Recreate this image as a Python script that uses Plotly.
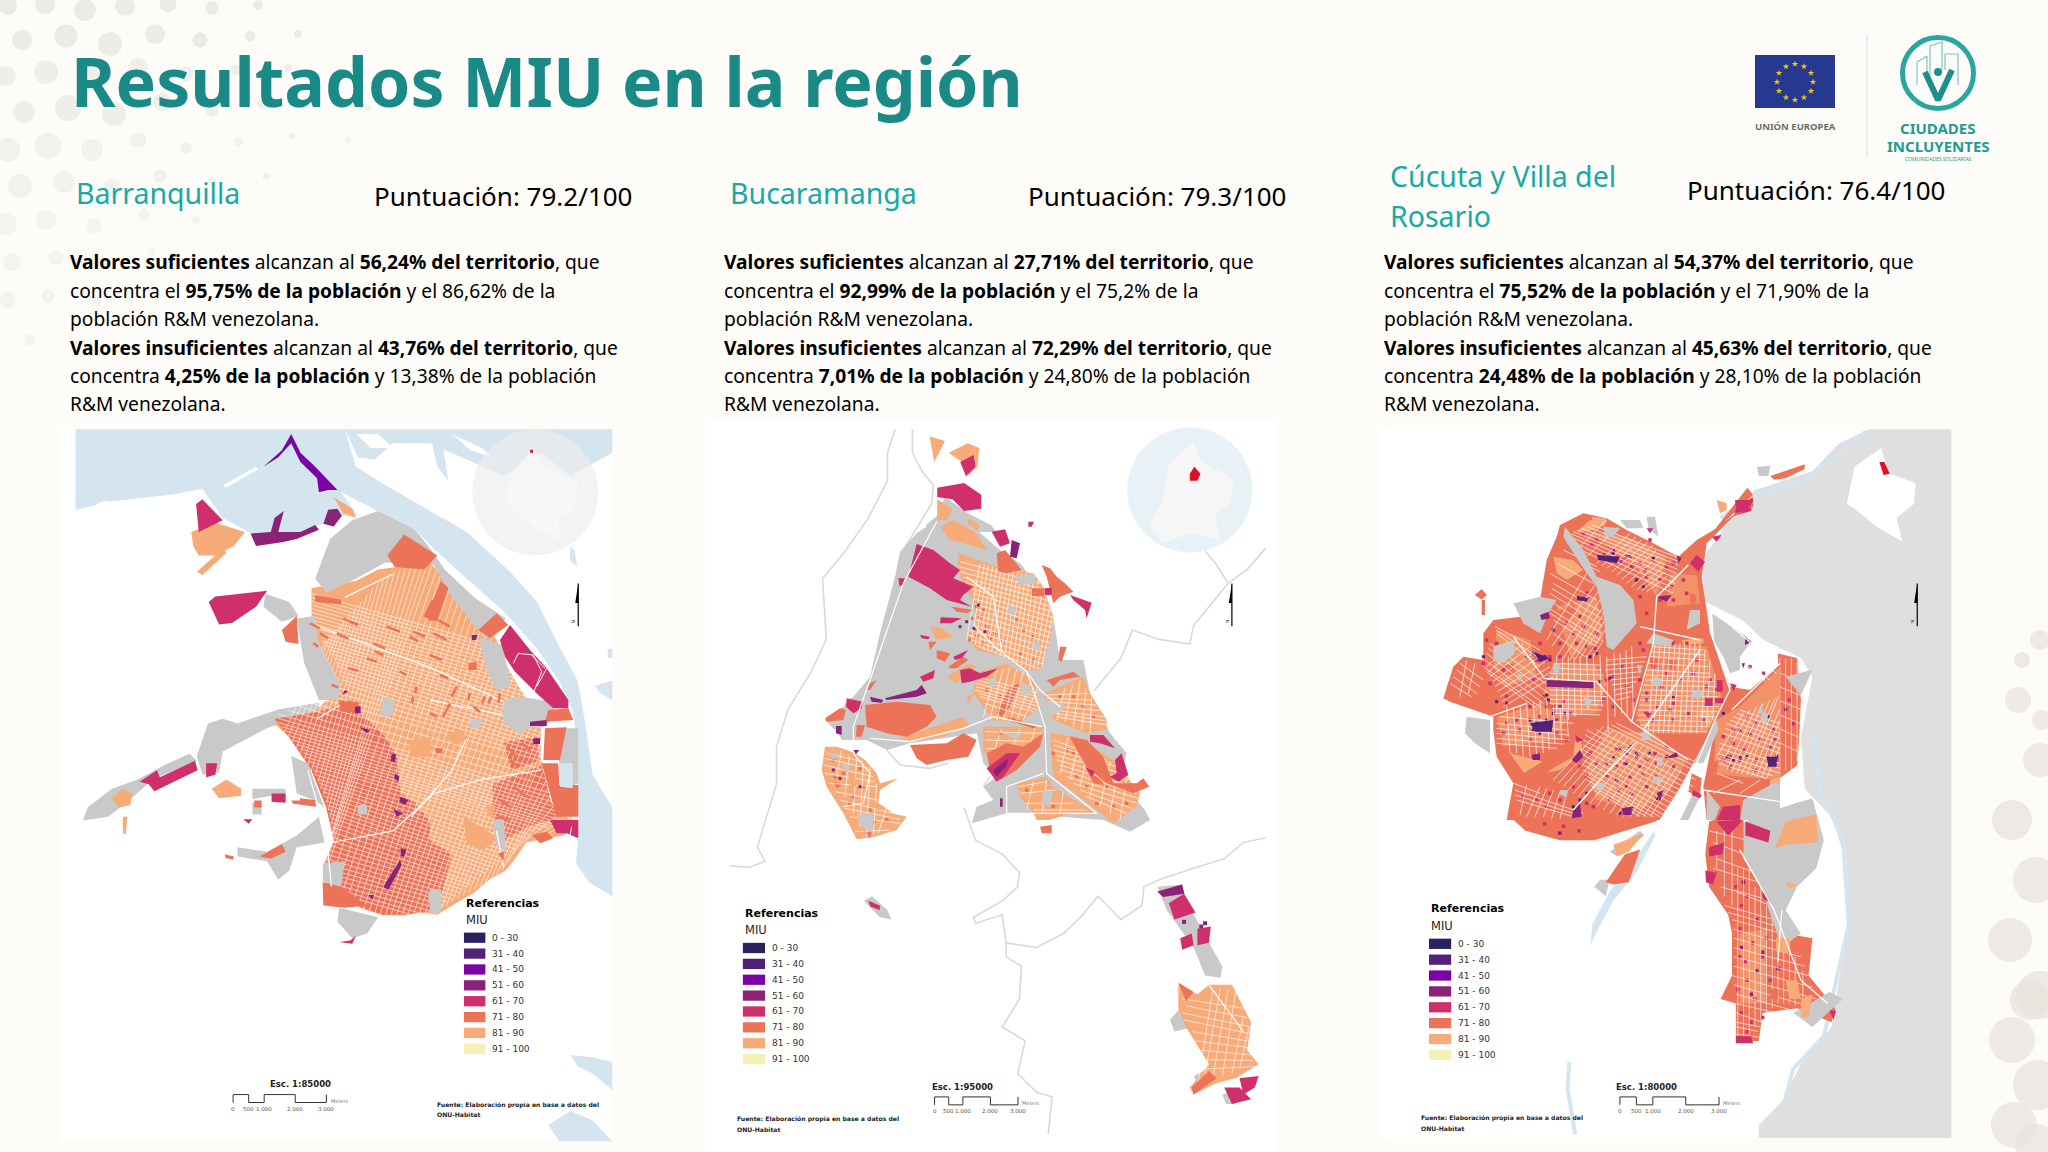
import plotly.graph_objects as go

# ---- Colores
VERDE_TITULO = '#1a8a87'
VERDE_CIUDAD = '#17a9a6'
FONDO = '#fdfcf8'
GRIS = '#c9c9c9'
GRIS_CLARO = '#dfdfdf'
AGUA = '#d5e5ef'
C_0_30 = '#2a2260'
C_31_40 = '#53217a'
C_41_50 = '#7b03a5'
C_51_60 = '#8a2278'
C_61_70 = '#cf2f6b'
C_71_80 = '#ec7357'
C_81_90 = '#f6ab78'
C_91_100 = '#f5f0b8'

# ---- Leyenda
LEYENDA_CAT = ['0 - 30', '31 - 40', '41 - 50', '51 - 60', '61 - 70', '71 - 80', '81 - 90', '91 - 100']
LEYENDA_COL = [C_0_30, C_31_40, C_41_50, C_51_60, C_61_70, C_71_80, C_81_90, C_91_100]
ESCALA_TXT = ['0', '500', '1.000', '2.000', '3.000']

# ---- Textos
TITULO = 'Resultados MIU en la región'
TEXTO_BQ = [
    '<b>Valores suficientes</b> alcanzan al <b>56,24% del territorio</b>, que',
    'concentra el <b>95,75% de la población</b> y el 86,62% de la',
    'población R&M venezolana.',
    '<b>Valores insuficientes</b> alcanzan al <b>43,76% del territorio</b>, que',
    'concentra <b>4,25% de la población</b> y 13,38% de la población',
    'R&M venezolana.']
TEXTO_BU = [
    '<b>Valores suficientes</b> alcanzan al <b>27,71% del territorio</b>, que',
    'concentra el <b>92,99% de la población</b> y el 75,2% de la',
    'población R&M venezolana.',
    '<b>Valores insuficientes</b> alcanzan al <b>72,29% del territorio</b>, que',
    'concentra <b>7,01% de la población</b> y 24,80% de la población',
    'R&M venezolana.']
TEXTO_CU = [
    '<b>Valores suficientes</b> alcanzan al <b>54,37% del territorio</b>, que',
    'concentra el <b>75,52% de la población</b> y el 71,90% de la',
    'población R&M venezolana.',
    '<b>Valores insuficientes</b> alcanzan al <b>45,63% del territorio</b>, que',
    'concentra <b>24,48% de la población</b> y 28,10% de la población',
    'R&M venezolana.']

# ---- Puntos decorativos del fondo
PUNTOS_X = [8, 45, 85, 125, 168, 212, 258, 22, 66, 110, 155, 200, 250, 298, 6, 46, 92, 138, 186, 236, 288, 340,
            24, 68, 114, 162, 212, 262, 316, 368, 8, 48, 92, 138, 186, 238, 292, 348, 20, 64, 112, 160, 212, 266,
            6, 46, 94, 144, 196, 12, 56, 102, 152, 8, 48, 96, 30, 2040, 2018, 2040, 2012, 2036, 2010, 2040, 2012, 2038, 2014, 2036, 2022, 2042, 2030]
PUNTOS_Y = [6, 4, 10, 6, 4, 8, 5, 40, 36, 44, 34, 40, 36, 34, 76, 72, 78, 68, 74, 70, 68, 72,
            112, 108, 114, 102, 110, 104, 102, 108, 150, 146, 150, 140, 148, 142, 136, 140, 186, 182, 188, 176, 182, 176,
            224, 220, 226, 214, 220, 262, 258, 264, 252, 300, 296, 302, 340, 640, 700, 760, 820, 880, 940, 995, 1040, 1085, 1125, 1145, 660, 720, 1000]
PUNTOS_TAM = [18, 20, 22, 20, 17, 14, 10, 20, 23, 24, 20, 15, 11, 8, 20, 24, 26, 20, 15, 11, 8, 7,
              22, 26, 24, 18, 13, 10, 7, 6, 24, 26, 22, 16, 12, 9, 7, 6, 24, 22, 18, 13, 9, 7,
              22, 20, 16, 11, 8, 18, 15, 12, 8, 16, 13, 10, 11, 20, 26, 34, 40, 46, 44, 48, 46, 50, 46, 42, 16, 20, 40]
PUNTOS_COL = ['#e6e4de'] * 14 + ['#eae8e2'] * 16 + ['#eeece7'] * 14 + ['#f1efea'] * 13 + ['#e5e3dd'] * 14

# ---- Logos
ESTRELLAS_X = [1795, 1804, 1811, 1813, 1811, 1804, 1795, 1786, 1779, 1777, 1779, 1786]
ESTRELLAS_Y = [64, 66.5, 73, 82, 91, 97.5, 100, 97.5, 91, 82, 73, 66.5]
BANDERA = [[(1755, 55), (1835, 55), (1835, 108), (1755, 108)]]
EDIFICIOS = [(1917, 85, 1917, 62, 1927, 56, 1927, 82), (1930, 76, 1930, 46, 1942, 42, 1942, 70), (1945, 70, 1945, 54, 1958, 54, 1958, 85)]
PERSONA = [(1925, 72), (1938, 100), (1952, 70)]

# ---- Barranquilla, plano general
BQ_AGUA = [
    [(42, 20), (670, 20), (760, 155), (805, 205), (770, 205), (700, 225), (600, 262), (510, 240), (440, 210), (385, 148), (300, 160), (130, 175), (42, 193)],
    [(660, 20), (770, 20), (800, 100), (880, 140), (990, 190), (1100, 240), (1210, 320), (1290, 390), (1340, 470), (1400, 560), (1420, 650), (1440, 760), (1493, 830), (1493, 1020), (1430, 990), (1395, 950), (1402, 880), (1400, 700), (1385, 620), (1350, 560), (1290, 490), (1200, 410), (1100, 340), (1010, 275), (960, 235), (860, 195), (760, 155)],
    [(770, 20), (1493, 20), (1493, 70), (1380, 120), (1300, 70), (1200, 120), (1100, 85), (1000, 50), (900, 50), (850, 85), (805, 80)],
    [(1000, 30), (1030, 30), (1050, 130), (1020, 100)],
    [(1380, 270), (1392, 280), (1398, 315), (1378, 300)],
    [(1380, 1360), (1440, 1365), (1493, 1375), (1493, 1435), (1440, 1400), (1400, 1385)],
    [(1320, 1510), (1380, 1480), (1440, 1500), (1493, 1545), (1350, 1545)],
    [(1480, 490), (1493, 490), (1493, 510), (1482, 510)],
    [(1445, 570), (1493, 558), (1493, 600), (1460, 585)]]
BQ_BLANCO = [
    [(440, 140), (530, 100), (535, 106), (450, 145)],
    [(100, 178), (130, 172), (130, 176), (100, 182)],
    [(800, 30), (860, 30), (900, 60), (840, 60)],
    [(1060, 30), (1140, 60), (1170, 80), (1110, 65)]]
BQ_PAIS = [[(1225, 110), (1280, 60), (1300, 100), (1400, 130), (1390, 190), (1345, 210), (1360, 260), (1280, 230), (1225, 190), (1200, 170)]]
BQ_ROJO = [(1275, 67)]
BQ_BASE = [
    [(680, 360), (800, 345), (860, 320), (1000, 305), (1040, 340), (1100, 400), (1180, 470), (1210, 530), (1270, 610), (1300, 640), (1300, 720), (1330, 800), (1400, 870), (1360, 890), (1320, 895), (1290, 900), (1260, 905), (1235, 935), (1205, 965), (1160, 985), (1120, 1012), (1070, 1035), (1020, 1060), (975, 1055), (930, 1062), (870, 1060), (820, 1048), (770, 1030), (712, 985), (715, 950), (740, 900), (720, 830), (680, 750), (620, 680), (580, 650), (695, 620), (760, 570), (700, 480), (680, 420)]]
BQ_BARRIOS = [
    [(355, 240), (420, 220), (500, 240), (470, 270), (420, 290), (375, 290), (360, 270)],
    [(370, 325), (440, 275), (450, 285), (385, 332)],
    [(140, 810), (170, 790), (195, 800), (190, 825), (160, 830)],
    [(170, 850), (182, 850), (178, 888), (170, 885)],
    [(410, 790), (450, 770), (490, 790), (490, 805), (430, 810)],
    [(740, 165), (790, 190), (800, 210), (765, 200)]]
BQ_ZONA_ROJA = [
    [(580, 640), (700, 625), (760, 610), (830, 640), (880, 680), (910, 720), (920, 800), (960, 820), (1000, 860), (1000, 900), (1060, 930), (1040, 990), (1020, 1050), (930, 1060), (870, 1060), (770, 1030), (712, 985), (715, 950), (740, 900), (720, 830), (680, 750), (620, 680)],
    [(1170, 780), (1300, 740), (1330, 800), (1350, 850), (1270, 870), (1200, 900), (1170, 850)],
    [(1200, 690), (1290, 680), (1295, 730), (1220, 750)]]
BQ_CALLES_A = [
    (680, 372, 1250, 500), (680, 388, 1260, 518), (680, 404, 1270, 536), (680, 420, 1280, 556), (690, 438, 1290, 574),
    (700, 456, 1300, 592), (710, 474, 1300, 610), (725, 492, 1300, 626), (740, 510, 1300, 642), (750, 528, 1300, 660),
    (760, 548, 1300, 678), (770, 566, 1300, 696), (740, 582, 1300, 712), (700, 596, 1300, 730), (640, 612, 1320, 770),
    (590, 630, 1330, 800), (590, 648, 1340, 820), (610, 666, 1350, 840), (630, 686, 1360, 858), (650, 704, 1370, 874),
    (665, 722, 1320, 874), (680, 740, 1280, 880), (690, 760, 1260, 896), (700, 778, 1240, 912), (710, 796, 1220, 926),
    (720, 816, 1200, 940), (725, 834, 1180, 952), (730, 852, 1160, 964), (735, 872, 1140, 976), (730, 892, 1120, 990),
    (725, 910, 1100, 1000), (720, 930, 1080, 1012), (715, 950, 1060, 1026), (712, 968, 1040, 1040), (712, 988, 1020, 1056),
    (740, 1012, 960, 1062)]
BQ_CALLES_A2 = [
    (680, 380, 1255, 509), (680, 396, 1265, 527), (680, 412, 1275, 546), (685, 429, 1285, 565), (695, 447, 1295, 583),
    (705, 465, 1300, 601), (718, 483, 1300, 618), (732, 501, 1300, 634), (745, 519, 1300, 651), (755, 538, 1300, 669),
    (765, 557, 1300, 687), (755, 574, 1300, 704), (720, 589, 1300, 721), (670, 604, 1310, 750), (615, 621, 1325, 785),
    (590, 639, 1335, 810), (600, 657, 1345, 830), (620, 676, 1355, 849), (640, 695, 1365, 866), (658, 713, 1345, 874),
    (672, 731, 1300, 877), (685, 750, 1270, 888), (695, 769, 1250, 904), (705, 787, 1230, 919), (715, 806, 1210, 933),
    (722, 825, 1190, 946), (728, 843, 1170, 958), (732, 862, 1150, 970), (733, 882, 1130, 983), (728, 901, 1110, 995),
    (722, 920, 1090, 1006), (718, 940, 1070, 1019), (713, 959, 1050, 1033), (712, 978, 1030, 1048), (725, 1000, 990, 1060)]
BQ_CALLES_B = [
    (600, 680, 720, 470), (625, 695, 745, 450), (650, 715, 770, 425), (670, 740, 800, 400), (690, 760, 830, 375),
    (705, 790, 860, 350), (720, 820, 890, 330), (730, 850, 920, 318), (735, 885, 950, 312), (722, 930, 980, 310),
    (715, 975, 1005, 312), (745, 1010, 1030, 330), (775, 1030, 1055, 355), (805, 1045, 1080, 380), (835, 1055, 1105, 405),
    (865, 1060, 1130, 425), (895, 1060, 1155, 450), (925, 1060, 1180, 475), (955, 1060, 1195, 505), (985, 1060, 1215, 535),
    (1015, 1055, 1235, 565), (1045, 1040, 1255, 595), (1075, 1025, 1275, 620), (1105, 1012, 1295, 645), (1135, 1000, 1300, 690),
    (1165, 985, 1300, 730), (1195, 965, 1315, 770), (1225, 930, 1330, 800), (1260, 900, 1355, 840), (1300, 895, 1375, 860)]
BQ_CALLES_B2 = [
    (612, 688, 732, 460), (638, 705, 758, 438), (660, 728, 785, 412), (680, 750, 815, 388), (698, 775, 845, 362),
    (712, 805, 875, 340), (725, 835, 905, 324), (732, 868, 935, 315), (728, 908, 965, 311), (718, 952, 992, 311),
    (730, 992, 1018, 320), (760, 1020, 1042, 342), (790, 1038, 1068, 368), (820, 1050, 1092, 392), (850, 1058, 1118, 415),
    (880, 1060, 1142, 438), (910, 1060, 1168, 462), (940, 1060, 1188, 490), (970, 1060, 1205, 520), (1000, 1058, 1225, 550),
    (1030, 1048, 1245, 580), (1060, 1032, 1265, 608), (1090, 1018, 1285, 632), (1120, 1006, 1298, 668), (1150, 992, 1300, 710),
    (1180, 975, 1308, 750), (1210, 948, 1322, 785), (1242, 915, 1342, 820), (1280, 898, 1365, 850)]
BQ_AVENIDAS = [
    [(690, 440), (1000, 530), (1245, 620)], [(695, 640), (780, 600)], [(670, 750), (720, 890), (735, 1010)],
    [(735, 905), (900, 880), (1010, 800), (1140, 770), (1300, 750)], [(1000, 600), (1250, 640)], [(1300, 720), (1330, 820), (1400, 870)],
    [(1100, 680), (1060, 750), (950, 850)], [(770, 380), (900, 330)], [(1200, 960), (1180, 880)]]
BQ_GRIS = [
    [(690, 340), (730, 255), (790, 215), (860, 195), (960, 235), (1010, 285), (1040, 320), (1120, 380), (1205, 425), (1150, 470), (1060, 380), (1010, 310), (880, 305), (800, 340), (720, 370)],
    [(640, 425), (690, 420), (700, 480), (760, 570), (750, 600), (700, 600), (660, 520)],
    [(555, 372), (620, 390), (645, 420), (600, 432), (550, 400)],
    [(625, 720), (670, 735), (700, 800), (715, 830), (690, 815), (640, 800)],
    [(480, 915), (560, 925), (640, 890), (700, 850), (715, 905), (640, 915), (620, 965), (590, 985), (560, 945), (480, 935)],
    [(710, 950), (770, 945), (760, 1000), (712, 990)],
    [(755, 1045), (860, 1065), (830, 1100), (790, 1110), (750, 1075)],
    [(1000, 1005), (1030, 1005), (1030, 1055), (1000, 1055)],
    [(1170, 860), (1200, 850), (1205, 925), (1180, 910)],
    [(1150, 480), (1195, 480), (1220, 570), (1180, 580), (1150, 530)],
    [(870, 595), (905, 600), (900, 630), (875, 630)],
    [(805, 825), (830, 825), (830, 845), (805, 845)],
    [(520, 790), (610, 790), (610, 800), (520, 812)],
    [(520, 820), (545, 820), (545, 845), (520, 845)]]
BQ_GRIS_BRAZO = [
    [(370, 720), (400, 650), (440, 640), (480, 650), (590, 620), (700, 605), (700, 625), (560, 660), (440, 710), (430, 755), (385, 760)],
    [(75, 830), (140, 790), (210, 770), (280, 740), (350, 715), (370, 730), (250, 770), (180, 820), (130, 850), (62, 858)]]
BQ_71_80 = [
    [(885, 290), (930, 245), (1020, 290), (985, 320), (905, 315)],
    [(990, 420), (1030, 345), (1050, 360), (1020, 430), (1000, 430)],
    [(600, 450), (640, 420), (645, 480), (610, 475)],
    [(710, 990), (760, 1000), (830, 1040), (770, 1045), (712, 1040)],
    [(540, 935), (600, 908), (610, 925), (570, 940)],
    [(625, 815), (690, 815), (690, 828), (630, 822)],
    [(525, 815), (545, 815), (545, 830), (525, 830)],
    [(445, 930), (470, 935), (468, 942), (448, 938)],
    [(755, 600), (810, 605), (800, 625), (760, 625)],
    [(690, 375), (760, 385), (760, 395), (690, 390)]]
BQ_61_70 = [
    [(368, 180), (385, 170), (440, 215), (375, 240)],
    [(402, 390), (420, 378), (560, 366), (530, 400), (465, 435), (430, 438)],
    [(215, 775), (262, 750), (270, 765), (365, 730), (372, 750), (255, 795), (240, 780)],
    [(495, 855), (520, 855), (510, 865)],
    [(572, 800), (610, 800), (610, 820), (572, 818)],
    [(755, 1118), (785, 1115), (800, 1105), (790, 1122)],
    [(395, 735), (425, 735), (420, 760), (395, 765)]]
BQ_51_60 = [
    [(515, 243), (570, 240), (580, 210), (605, 195), (590, 240), (650, 240), (690, 225), (700, 235), (640, 255), (600, 262), (530, 270)],
    [(712, 222), (725, 192), (750, 190), (762, 205), (740, 228)]]
BQ_41_50 = [[(550, 100), (600, 65), (625, 30), (650, 70), (690, 100), (720, 125), (750, 150), (725, 150), (700, 155), (695, 125), (650, 90), (625, 50), (590, 80)]]

# ---- Barranquilla, detalle oriental (otra escala de lectura)
BQD_GRIS = [
    [(800, 385), (835, 385), (835, 550), (805, 560), (775, 480), (780, 420)],
    [(610, 300), (660, 290), (760, 305), (765, 350), (735, 380), (690, 385), (660, 400), (610, 370)],
    [(540, 115), (575, 120), (610, 200), (590, 215), (550, 175)],
    [(510, 355), (545, 360), (540, 385), (510, 385)],
    [(245, 305), (285, 315), (270, 350), (240, 345)],
    [(175, 615), (200, 615), (200, 640), (175, 640)],
    [(385, 875), (420, 875), (420, 900), (385, 900)]]
BQD_AGUA = [[(775, 490), (818, 490), (818, 565), (780, 560)]]
BQD_71_80 = [
    [(535, 90), (590, 40), (625, 75), (570, 115)],
    [(735, 385), (800, 382), (780, 480), (730, 480)],
    [(725, 490), (775, 490), (778, 555), (835, 555), (835, 650), (770, 650)],
    [(745, 330), (805, 325), (820, 360), (735, 365)],
    [(695, 705), (740, 695), (760, 715), (720, 730)],
    [(0, 595), (45, 600), (48, 620), (0, 610)],
    [(70, 850), (115, 870), (115, 900), (70, 900)],
    [(595, 760), (612, 755), (610, 785)],
    [(405, 445), (428, 445), (425, 460), (408, 460)],
    [(115, 310), (150, 300), (170, 335), (130, 335)],
    [(370, 50), (395, 0), (420, 0), (385, 55)],
    [(505, 190), (530, 185), (530, 210), (505, 210)]]
BQD_81_90 = [
    [(440, 400), (480, 390), (505, 415), (460, 435)],
    [(560, 615), (585, 618), (580, 650), (560, 645)],
    [(330, 420), (395, 410), (390, 470), (330, 470)],
    [(490, 650), (560, 690), (590, 720), (550, 750), (500, 730)]]
BQD_61_70 = [
    [(600, 120), (630, 75), (690, 150), (740, 205), (805, 300), (805, 325), (760, 325), (715, 285), (645, 215), (615, 170)],
    [(750, 660), (835, 660), (835, 715), (800, 700), (770, 700)]]
BQD_LINEAS_BLANCAS = [[(640, 190), (655, 160), (700, 165), (725, 215), (700, 280)], [(740, 205), (710, 260)], [(695, 165), (735, 205)], [(815, 680), (810, 705)]]
BQD_51_60 = [
    [(690, 365), (740, 360), (740, 378), (690, 378)], [(700, 415), (720, 415), (720, 432), (700, 432)],
    [(165, 320), (182, 318), (182, 340), (165, 340)], [(180, 382), (210, 390), (200, 400)],
    [(250, 860), (300, 780), (305, 795), (265, 870)], [(302, 745), (320, 750), (312, 770), (302, 768)],
    [(275, 462), (288, 462), (285, 485), (272, 485)], [(285, 520), (298, 530), (295, 545), (282, 535)],
    [(300, 590), (325, 600), (315, 615), (298, 605)], [(280, 628), (310, 640), (290, 650)],
    [(515, 105), (532, 105), (528, 120), (515, 120)], [(135, 270), (145, 275), (125, 285)], [(205, 885), (222, 885), (218, 900)]]
BQD_RAYAS = [
    [(130, 55), (160, 70)], [(150, 65), (175, 75)], [(30, 70), (60, 85)], [(60, 100), (85, 115)], [(110, 100), (145, 115)], [(220, 130), (255, 145)], [(225, 155), (250, 165)],
    [(200, 175), (230, 185)], [(260, 80), (300, 95)], [(330, 110), (355, 125)], [(340, 95), (375, 110)], [(390, 165), (425, 180)], [(400, 100), (440, 120)], [(415, 60), (450, 80)],
    [(350, 260), (345, 280)], [(340, 290), (335, 310)], [(470, 260), (455, 290)], [(450, 310), (430, 350)], [(510, 280), (505, 300)], [(555, 290), (545, 310)], [(575, 290), (565, 310)], [(600, 280), (595, 310)],
    [(420, 225), (445, 235)], [(520, 320), (540, 335)], [(390, 340), (410, 350)], [(620, 440), (650, 470)], [(630, 480), (655, 500)], [(665, 430), (690, 450)], [(640, 560), (680, 590)], [(600, 600), (630, 620)], [(590, 650), (630, 660)],
    [(145, 205), (175, 212)], [(95, 255), (115, 262)], [(40, 130), (55, 140)], [(300, 215), (320, 225)]]

# ---- Bucaramanga, plano general
BU_RIOS = [
    [(510, 20), (490, 70), (490, 130), (440, 210), (380, 280), (320, 340), (325, 400), (330, 470), (290, 540), (230, 620), (200, 700), (200, 780), (170, 860), (150, 915), (170, 945), (130, 958), (78, 955)],
    [(555, 20), (555, 70), (580, 110), (610, 140), (605, 180), (560, 240), (530, 280)],
    [(1478, 275), (1430, 320), (1380, 350), (1350, 310), (1320, 280)],
    [(1380, 350), (1290, 440), (1280, 480), (1200, 470), (1130, 450), (1100, 510), (1030, 580)],
    [(1478, 895), (1420, 905), (1370, 940), (1290, 960), (1200, 985), (1160, 1000), (1155, 1040), (1100, 1070), (1040, 1020), (1000, 1060), (950, 1100), (880, 1130), (800, 1120), (800, 1150), (840, 1170), (835, 1240), (790, 1300), (850, 1330), (830, 1400), (880, 1440), (920, 1450), (910, 1530)],
    [(690, 830), (720, 900), (790, 930), (835, 970), (830, 1000), (790, 1030), (715, 1065), (720, 1078), (790, 1060), (800, 1120)]]
BU_PAIS = [[(1225, 95), (1290, 45), (1310, 90), (1395, 125), (1385, 180), (1345, 205), (1360, 258), (1285, 240), (1210, 265), (1175, 225), (1210, 170)]]
BU_ROJO = [[(1280, 115), (1292, 100), (1308, 115), (1300, 130), (1280, 130)]]
BU_GRIS = [
    [(590, 225), (620, 205), (640, 165), (700, 200), (760, 225), (775, 240), (600, 240)],
    [(428, 1030), (450, 1020), (490, 1050), (500, 1070), (470, 1065)],
    [(1195, 1000), (1260, 995), (1265, 1020), (1330, 1120), (1365, 1170), (1360, 1195), (1320, 1190), (1290, 1130), (1220, 1050)],
    [(1228, 1285), (1260, 1255), (1290, 1300), (1240, 1310)],
    [(1290, 1405), (1340, 1385), (1350, 1415), (1300, 1420)],
    [(1365, 1445), (1385, 1440), (1400, 1465), (1375, 1465)]]
BU_BASE = [
    [(1250, 1210), (1300, 1230), (1330, 1210), (1390, 1210), (1440, 1290), (1430, 1350), (1460, 1380), (1400, 1410), (1350, 1420), (1290, 1445), (1280, 1430), (1330, 1380), (1270, 1300), (1250, 1260)],
    [(620, 170), (660, 190), (640, 225), (620, 215)],
    [(700, 210), (730, 225), (725, 240), (700, 235)],
    [(600, 35), (640, 45), (612, 90)],
    [(650, 70), (700, 50), (730, 60), (725, 100), (695, 122), (685, 90)]]
BU_CALLES = [
    (1260, 1240, 1420, 1260), (1260, 1270, 1440, 1300), (1285, 1310, 1430, 1330), (1310, 1350, 1440, 1360), (1320, 1390, 1450, 1385),
    (1300, 1430, 1340, 1220), (1340, 1410, 1380, 1220), (1390, 1400, 1420, 1280), (1270, 1255, 1430, 1280), (1295, 1330, 1440, 1345),
    (1320, 1400, 1360, 1215), (1365, 1405, 1400, 1225), (1410, 1390, 1435, 1300), (1265, 1285, 1440, 1315), (1300, 1370, 1445, 1372)]
BU_AVENIDAS = [[(1330, 1210), (1420, 1310)]]
BU_71_80 = [
    [(1285, 1430), (1330, 1395), (1350, 1410), (1290, 1445)],
    [(1250, 1205), (1290, 1225), (1270, 1245)]]
BU_61_70 = [
    [(620, 145), (690, 135), (735, 160), (735, 190), (690, 195), (660, 170), (620, 165)],
    [(680, 90), (715, 75), (720, 100), (695, 120)],
    [(1225, 1035), (1265, 1015), (1295, 1055), (1240, 1070)],
    [(1255, 1110), (1285, 1100), (1290, 1125), (1260, 1135)],
    [(1300, 1090), (1335, 1085), (1330, 1120), (1300, 1125)],
    [(1410, 1410), (1460, 1405), (1450, 1430), (1420, 1445)],
    [(1370, 1430), (1410, 1430), (1440, 1455), (1390, 1465)],
    [(440, 1030), (470, 1040), (470, 1050), (445, 1042)]]
BU_51_60 = [[(1195, 1010), (1260, 995), (1266, 1015), (1210, 1022)]]
BU_BLOQUES_MORADOS = [(1310, 1085), (1320, 1078), (1265, 1075)]

# ---- Bucaramanga, detalle de la ciudad
BUD_RIO = [[(200, 690), (240, 735), (330, 745), (385, 730)], [(490, 800), (510, 770)]]
BUD_GRIS = [
    [(350, 0), (290, 40), (240, 95), (225, 170), (180, 340), (150, 470), (100, 530), (85, 540), (70, 560), (15, 600), (55, 640), (65, 660), (140, 660), (200, 690), (270, 670), (470, 640), (490, 730), (530, 770), (490, 800), (520, 840), (470, 860), (455, 910), (560, 880), (640, 880), (720, 890), (850, 900), (930, 935), (990, 900), (975, 870), (900, 780), (920, 700), (870, 640), (810, 520), (790, 420), (720, 420), (700, 290), (640, 180), (600, 130), (540, 90), (470, 30), (430, 0)]]
BUD_BASE = [
    [(415, 100), (500, 130), (560, 150), (640, 160), (670, 200), (700, 290), (690, 360), (660, 450), (620, 450), (550, 410), (470, 390), (440, 350), (470, 310), (460, 240), (430, 200), (415, 140)],
    [(470, 460), (560, 430), (640, 480), (660, 560), (600, 610), (520, 600), (490, 560), (460, 520)],
    [(670, 520), (790, 470), (810, 520), (860, 600), (860, 630), (800, 640), (700, 600)],
    [(590, 790), (680, 770), (700, 800), (830, 880), (750, 880), (690, 900), (640, 880), (600, 830)],
    [(690, 640), (770, 650), (880, 720), (960, 820), (950, 860), (880, 910), (830, 870), (700, 770)],
    [(490, 620), (560, 620), (670, 620), (650, 680), (600, 720), (540, 710), (490, 700)],
    [(15, 680), (50, 680), (80, 690), (105, 700), (135, 720), (170, 760), (180, 790), (235, 775), (180, 810), (175, 850), (220, 880), (260, 890), (230, 930), (165, 950), (110, 958), (70, 880), (20, 800), (5, 750)],
    [(360, 20), (400, 0), (470, 40), (500, 90), (430, 70), (390, 60)],
    [(330, 320), (365, 325), (400, 350), (350, 360)],
    [(380, 470), (450, 430), (470, 440), (410, 490)]]
BUD_GRIS_HUECOS = [
    [(580, 170), (640, 160), (650, 190), (600, 195)], [(640, 365), (660, 365), (660, 390), (640, 390)], [(680, 540), (740, 560), (680, 600)],
    [(770, 720), (830, 700), (820, 740)], [(565, 255), (590, 260), (585, 285), (565, 280)], [(550, 640), (610, 640), (590, 660)],
    [(60, 730), (90, 735), (85, 760)], [(110, 880), (160, 880), (160, 940), (125, 920)], [(670, 810), (700, 815), (690, 860), (665, 850)],
    [(500, 480), (530, 470), (520, 510)], [(600, 480), (640, 510), (610, 530)], [(25, 700), (60, 700), (40, 720)]]
BUD_81_90 = [
    [(240, 655), (330, 625), (430, 590), (445, 615), (370, 650), (280, 665)],
    [(160, 845), (195, 860), (180, 870), (150, 860)], [(85, 760), (105, 760), (110, 800), (90, 800)],
    [(440, 530), (465, 520), (445, 550)], [(640, 880), (690, 880), (690, 900), (650, 900)]]
BUD_71_80 = [
    [(135, 555), (230, 545), (330, 555), (350, 590), (320, 620), (260, 650), (200, 640), (140, 620)],
    [(270, 675), (380, 670), (430, 640), (470, 660), (445, 710), (380, 720), (320, 735), (290, 715)],
    [(110, 615), (135, 615), (125, 650), (108, 650)],
    [(15, 595), (60, 565), (78, 570), (70, 600), (20, 605)],
    [(530, 100), (555, 90), (605, 150), (560, 160), (535, 155)],
    [(665, 135), (690, 145), (710, 170), (735, 190), (760, 215), (720, 230), (700, 250), (690, 210), (680, 170)],
    [(635, 205), (675, 205), (672, 228), (635, 228)],
    [(350, 390), (390, 400), (375, 425), (350, 415)], [(385, 440), (430, 410), (445, 420), (410, 445), (390, 445)], [(325, 365), (350, 365), (330, 390)],
    [(500, 700), (560, 670), (610, 680), (670, 640), (660, 680), (590, 750), (540, 780), (510, 750)],
    [(750, 650), (800, 660), (850, 710), (880, 790), (950, 790), (970, 775), (988, 800), (940, 820), (860, 790), (800, 740), (770, 690)],
    [(800, 750), (830, 770), (855, 795), (820, 790)],
    [(660, 920), (695, 915), (695, 940), (665, 940)],
    [(680, 480), (760, 455), (780, 470), (720, 480), (700, 500)],
    [(720, 380), (740, 380), (725, 425), (715, 420)],
    [(150, 490), (170, 480), (150, 510), (140, 510)],
    [(530, 580), (570, 500), (600, 490), (570, 560), (545, 590)],
    [(570, 590), (650, 620), (640, 625), (560, 600)],
    [(395, 260), (460, 270), (440, 280), (410, 275)],
    [(40, 785), (65, 795), (50, 805)], [(145, 895), (170, 900), (155, 925)], [(130, 930), (155, 935), (150, 955)]]
BUD_61_70 = [
    [(290, 72), (340, 90), (390, 130), (420, 150), (400, 175), (460, 200), (430, 225), (420, 240), (455, 260), (380, 240), (330, 205), (265, 170)],
    [(235, 175), (255, 175), (250, 195), (238, 197)],
    [(515, 35), (555, 28), (570, 70), (540, 80)],
    [(362, 292), (425, 295), (395, 310), (360, 310)],
    [(300, 345), (330, 350), (325, 358), (305, 355)],
    [(300, 470), (345, 450), (340, 475), (310, 485)],
    [(420, 450), (450, 445), (480, 460), (535, 445), (500, 470), (450, 485), (425, 490)],
    [(80, 535), (128, 545), (125, 565), (100, 580), (78, 560)],
    [(810, 645), (850, 645), (885, 685), (840, 670), (810, 665)],
    [(885, 720), (905, 700), (925, 765), (895, 785), (870, 770), (890, 760)],
    [(795, 740), (825, 755), (815, 770)],
    [(500, 745), (560, 700), (600, 700), (550, 770), (530, 785)],
    [(400, 410), (445, 390), (425, 415), (405, 420)],
    [(675, 205), (695, 203), (695, 225), (675, 225)],
    [(750, 225), (815, 248), (800, 295), (795, 270), (760, 240)],
    [(625, 5), (642, 5), (635, 20), (625, 20)]]
BUD_51_60 = [
    [(150, 530), (190, 540), (185, 548), (155, 545)], [(195, 535), (290, 510), (305, 495), (320, 520), (290, 530), (200, 540)],
    [(48, 618), (65, 618), (65, 645), (48, 640)], [(575, 60), (600, 70), (590, 115), (570, 110)],
    [(540, 835), (548, 835), (548, 860), (540, 860)], [(100, 690), (118, 690), (108, 703)], [(520, 750), (565, 715), (560, 735), (530, 770)]]
BUD_CALLES_A = [
    (420, 125, 660, 190), (418, 140, 670, 208), (420, 155, 680, 225), (430, 172, 690, 243), (438, 188, 695, 260), (450, 205, 698, 275), (458, 220, 700, 292),
    (462, 236, 700, 308), (465, 252, 697, 322), (468, 268, 694, 338), (470, 285, 690, 352), (468, 300, 688, 368), (460, 315, 682, 384), (450, 330, 678, 400),
    (445, 345, 672, 416), (455, 360, 668, 432), (470, 378, 662, 448),
    (470, 470, 650, 520), (470, 490, 655, 540), (465, 510, 660, 560), (480, 530, 640, 575), (495, 550, 620, 590), (680, 525, 805, 520), (690, 545, 830, 555), (700, 570, 850, 590), (710, 590, 860, 615),
    (495, 635, 665, 640), (495, 660, 655, 665), (500, 685, 625, 695), (700, 660, 860, 720), (700, 690, 890, 740), (710, 720, 925, 780), (725, 750, 950, 820), (760, 790, 950, 850), (800, 830, 920, 880),
    (595, 800, 680, 785), (600, 820, 710, 810), (615, 850, 760, 850), (640, 870, 800, 870),
    (20, 700, 130, 725), (10, 735, 160, 770), (30, 790, 170, 800), (60, 840, 240, 885), (90, 890, 240, 910), (105, 935, 210, 930),
    (470, 480, 652, 530), (468, 500, 657, 550), (475, 520, 650, 568), (700, 675, 875, 730), (705, 705, 905, 760), (718, 735, 940, 800), (740, 770, 955, 835), (780, 810, 935, 865),
    (15, 715, 145, 745), (15, 760, 165, 785), (45, 815, 200, 845), (75, 865, 240, 898), (680, 535, 815, 540), (695, 558, 840, 572), (705, 580, 855, 602)]
BUD_CALLES_B = [
    (440, 360, 480, 130), (465, 375, 505, 135), (490, 385, 530, 145), (515, 395, 555, 150), (540, 408, 580, 155), (565, 420, 605, 158), (590, 435, 630, 160), (615, 448, 655, 180), (640, 448, 680, 225), (665, 440, 697, 290),
    (453, 368, 493, 132), (478, 380, 518, 140), (503, 390, 543, 148), (528, 402, 568, 152), (553, 414, 593, 156), (578, 428, 618, 159), (603, 442, 643, 168), (628, 450, 668, 200), (652, 445, 690, 260),
    (490, 590, 530, 450), (530, 600, 570, 440), (570, 605, 610, 455), (610, 600, 650, 510), (710, 600, 735, 505), (760, 620, 780, 480), (810, 640, 815, 530), (720, 760, 745, 650), (780, 800, 810, 670), (840, 860, 870, 730), (900, 900, 920, 770),
    (620, 870, 640, 785), (665, 890, 680, 780), (720, 880, 730, 815), (520, 700, 545, 625), (570, 705, 600, 625), (625, 695, 645, 625),
    (50, 770, 65, 690), (100, 880, 110, 715), (140, 950, 150, 740), (175, 940, 200, 860),
    (510, 595, 550, 445), (550, 603, 590, 447), (590, 603, 630, 490), (735, 605, 757, 495), (785, 630, 798, 505), (750, 780, 778, 660), (810, 830, 840, 700), (870, 880, 895, 750), (75, 830, 88, 705), (120, 920, 130, 730), (160, 945, 170, 790)]
BUD_AVENIDAS = [
    [(440, 170), (520, 230), (545, 395), (620, 455), (640, 510), (675, 620), (680, 760), (830, 880)], [(350, 5), (250, 190), (150, 480), (100, 620), (100, 690)],
    [(150, 655), (270, 665), (430, 625), (520, 590), (665, 620)], [(465, 320), (540, 395)], [(100, 700), (150, 760), (130, 850), (70, 860)], [(670, 760), (560, 800), (560, 880), (830, 880)], [(620, 455), (660, 510), (720, 560)]]
BUD_BLOQUES_ROJOS = [
    (470, 260), (480, 290), (465, 330), (500, 320), (525, 340), (490, 270), (510, 355), (490, 370), (540, 360), (600, 400), (640, 350), (610, 330), (590, 300), (640, 420),
    (450, 360), (470, 350), (455, 295), (500, 510), (540, 530), (760, 530), (790, 560), (820, 590), (740, 690), (830, 850), (880, 860), (920, 850), (770, 770), (700, 860), (620, 810), (600, 690),
    (40, 720), (70, 760), (120, 745), (45, 770), (100, 830), (130, 800), (150, 870), (200, 900), (90, 850), (700, 700), (760, 700), (800, 800), (860, 800), (720, 530), (540, 640)]
BUD_BLOQUES_MORADOS = [(475, 255), (462, 325), (495, 335), (420, 320), (440, 305), (120, 800), (40, 750), (60, 775)]

# ---- Cúcuta, plano general
CU_GRIS_ESTE = [[(1493, 20), (1280, 20), (1200, 50), (1130, 110), (980, 150), (900, 230), (840, 300), (850, 390), (950, 430), (1000, 470), (1100, 510), (1130, 550), (1100, 680), (1110, 790), (1180, 850), (1220, 950), (1225, 1070), (1200, 1200), (1180, 1300), (1100, 1380), (1050, 1460), (990, 1510), (990, 1538), (1493, 1538)]]
CU_RIOS = [
    [(1270, 25), (1170, 90), (1110, 130), (985, 160), (890, 210)],
    [(1130, 660), (1150, 790), (1210, 900), (1225, 1080), (1160, 1320), (1080, 1390), (1060, 1450)],
    [(495, 1375), (490, 1430), (510, 1530)]]
CU_RIO_SUR = [[(715, 880), (720, 890), (670, 970), (610, 1030), (570, 1090), (550, 1125), (555, 1080), (600, 1010), (660, 950)]]
CU_PAIS = [[(1240, 100), (1310, 60), (1330, 115), (1400, 135), (1395, 180), (1350, 210), (1365, 260), (1300, 230), (1240, 190), (1220, 180)]]
CU_ROJO = [[(1305, 90), (1318, 90), (1332, 115), (1316, 118)]]
CU_BASE = [
    [(1040, 500), (1090, 510), (1100, 600), (1095, 690), (1090, 740), (1040, 770)],
    [(340, 850), (735, 850), (720, 860), (560, 900), (470, 900), (380, 880)],
    [(860, 860), (900, 850), (1000, 850), (1090, 820), (1130, 850), (1140, 900), (1060, 960), (1020, 1030), (1060, 1100), (1130, 1110), (1120, 1190), (1190, 1260), (1180, 1290), (1090, 1260), (1000, 1270), (990, 1330), (930, 1330), (930, 1250), (890, 1240), (920, 1190), (920, 1100), (910, 1060), (860, 1000), (850, 930)],
    [(860, 250), (960, 145), (975, 160), (905, 215), (880, 240)],
    [(1020, 120), (1110, 95), (1110, 105), (1060, 125), (1030, 128)]]
CU_BASE_CLARA = [[(940, 1100), (1010, 1090), (1010, 1250), (940, 1250)]]
CU_CALLES_A = [
    (860, 880, 960, 900), (930, 1010, 1020, 1040), (920, 1070, 1050, 1100), (925, 1110, 1100, 1150), (925, 1150, 1120, 1190), (920, 1190, 1140, 1240), (930, 1230, 1100, 1270), (930, 1270, 1000, 1290), (930, 1300, 990, 1310),
    (880, 940, 1000, 975), (900, 1040, 1030, 1070), (925, 1130, 1110, 1170), (925, 1170, 1130, 1215), (925, 1210, 1120, 1255), (930, 1250, 1060, 1275), (1040, 540, 1095, 560), (1040, 600, 1100, 620), (1040, 660, 1095, 680),
    (870, 905, 985, 940), (870, 960, 1010, 995), (890, 1000, 1025, 1030), (910, 1055, 1040, 1085), (922, 1090, 1070, 1125), (1040, 570, 1098, 590), (1040, 630, 1098, 650), (1040, 690, 1092, 710), (930, 1290, 995, 1300), (930, 1315, 990, 1322)]
CU_CALLES_B = [
    (880, 880, 880, 960), (920, 880, 920, 1040), (950, 960, 950, 1320), (965, 960, 965, 1320), (980, 1000, 980, 1300), (995, 1000, 995, 1290), (1010, 1040, 1010, 1270), (1025, 1040, 1025, 1260), (1040, 1090, 1040, 1250), (1055, 1100, 1055, 1250), (1070, 1110, 1070, 1250), (1060, 510, 1060, 750), (1075, 510, 1075, 750),
    (900, 880, 900, 1020), (935, 960, 935, 1320), (1085, 1150, 1085, 1255), (1105, 1180, 1105, 1250), (1045, 510, 1045, 765), (1090, 520, 1090, 730)]
CU_GRIS = [
    [(950, 856), (1130, 810), (1160, 900), (1140, 960), (1090, 1000), (1060, 1050), (1100, 1100), (1050, 1130), (1000, 1010), (950, 940)],
    [(575, 985), (600, 985), (590, 1020), (560, 1000)],
    [(1060, 550), (1130, 535), (1100, 590)],
    [(1080, 1270), (1175, 1225), (1210, 1240), (1130, 1300)],
    [(985, 100), (1020, 98), (1015, 120), (990, 120)],
    [(600, 925), (680, 880), (690, 890), (620, 935)]]
CU_AVENIDAS = [[(940, 920), (1030, 1050), (1100, 1200), (1170, 1250)], [(950, 860), (1110, 810)], [(1050, 1050), (1040, 1160)]]
CU_81_90 = [
    [(1030, 920), (1060, 860), (1140, 845), (1145, 905), (1060, 910)],
    [(610, 910), (690, 885), (650, 925), (620, 935)],
    [(1100, 1240), (1130, 1230), (1120, 1280), (1100, 1280)],
    [(1060, 1200), (1090, 1200), (1100, 1240), (1070, 1240)],
    [(1035, 1110), (1070, 1110), (1070, 1140), (1035, 1140)],
    [(1060, 990), (1090, 995), (1070, 1005)]]
CU_71_80 = [
    [(590, 990), (640, 930), (680, 920), (650, 990), (610, 995)],
    [(1080, 1110), (1130, 1110), (1120, 1140), (1090, 1140)],
    [(1020, 1220), (1040, 1220), (1040, 1240), (1020, 1240)]]
CU_61_70 = [
    [(880, 860), (945, 856), (945, 860), (910, 890)],
    [(955, 860), (1020, 880), (1015, 905), (955, 890)],
    [(860, 915), (900, 905), (895, 930), (860, 935)],
    [(850, 965), (880, 970), (870, 995), (852, 990)],
    [(930, 190), (975, 165), (970, 195), (925, 205)],
    [(1000, 1005), (1022, 1035), (1000, 1025)],
    [(930, 1320), (970, 1320), (975, 1335), (930, 1335)],
    [(1175, 1265), (1192, 1265), (1185, 1285)]]
CU_BLOQUES_MAGENTA = [
    (930, 1000), (960, 1020), (940, 1090), (975, 1120), (1000, 1150), (960, 1200), (980, 1240), (945, 1270), (1010, 1110), (1040, 1175), (940, 1150), (1000, 1280), (960, 1310),
    (945, 1040), (985, 1070), (955, 1160), (1020, 1200), (935, 1220), (970, 1290), (1070, 600), (1080, 650), (480, 870), (520, 880), (430, 865)]
CU_BLOQUES_MORADOS = [(950, 990), (1040, 1175), (970, 1230), (1000, 1140), (945, 1130), (985, 1180), (470, 885), (1060, 620)]

# ---- Cúcuta, detalle de la ciudad
CUD_BASE = [[(360, 75), (430, 40), (500, 55), (560, 90), (640, 130), (715, 170), (770, 120), (830, 85), (860, 60), (940, 0), (940, 20), (880, 50), (800, 130), (785, 230), (800, 330), (810, 400), (870, 560), (930, 570), (1020, 490), (1020, 960), (800, 960), (790, 860), (830, 660), (760, 790), (700, 900), (660, 960), (200, 960), (220, 850), (170, 770), (160, 690), (160, 650), (30, 605), (10, 595), (40, 500), (70, 470), (130, 480), (130, 400), (160, 360), (240, 350), (300, 300), (320, 180), (350, 110)],
            [(105, 285), (125, 268), (140, 285), (125, 298)], [(125, 300), (135, 300), (135, 345), (125, 345)]]
CUD_CLARA = [
    [(640, 430), (800, 440), (850, 610), (800, 700), (720, 700), (610, 700), (590, 640)],
    [(830, 660), (900, 620), (1020, 500), (1020, 840), (900, 830), (820, 820)],
    [(690, 220), (770, 225), (780, 310), (680, 320)],
    [(500, 690), (640, 700), (740, 780), (690, 870), (600, 930), (470, 900), (440, 800)],
    [(400, 90), (560, 110), (680, 170), (650, 290), (590, 200), (470, 110)],
    [(340, 490), (460, 490), (500, 550), (470, 640), (360, 650), (310, 580)],
    [(170, 650), (300, 610), (380, 660), (340, 720), (190, 740)],
    [(350, 320), (470, 290), (490, 420), (390, 470)],
    [(170, 390), (270, 420), (290, 530), (200, 560), (160, 500)]]
CUD_81_90 = [
    [(210, 760), (330, 790), (420, 710), (430, 760), (360, 810), (260, 830)],
    [(780, 625), (820, 630), (810, 680), (780, 650)],
    [(410, 95), (450, 60), (500, 60), (495, 75), (440, 95)],
    [(340, 170), (400, 180), (430, 210), (380, 240), (350, 220)],
    [(830, 0), (860, 10), (860, 30), (840, 40)], [(455, 50), (500, 55), (495, 75), (460, 72)],
    [(990, 840), (1020, 830), (1020, 890), (990, 905)], [(725, 420), (790, 415), (790, 430), (730, 435)]]
CUD_71_80 = [
    [(250, 820), (300, 790), (380, 740), (405, 720), (400, 770), (330, 810), (270, 860)],
    [(300, 350), (340, 340), (400, 310), (410, 330), (350, 400), (310, 420)],
    [(20, 560), (50, 500), (110, 495), (125, 545), (60, 590)],
    [(665, 340), (710, 345), (705, 360), (670, 355)], [(665, 375), (718, 390), (710, 412), (665, 398)],
    [(630, 470), (665, 480), (660, 505), (630, 500)], [(680, 480), (710, 480), (705, 510), (675, 505)],
    [(755, 820), (785, 835), (780, 890), (745, 875)], [(840, 850), (865, 850), (860, 880), (838, 880)],
    [(175, 500), (220, 490), (225, 520), (180, 530)], [(350, 225), (390, 250), (370, 260), (345, 245)], [(750, 280), (770, 285), (765, 315), (750, 310)],
    [(105, 285), (125, 268), (140, 285), (125, 298)], [(820, 790), (835, 780), (830, 820), (815, 815)]]
CUD_61_70 = [
    [(750, 190), (770, 165), (795, 185), (775, 215)], [(885, 0), (940, 0), (925, 30), (890, 40)], [(815, 110), (845, 105), (830, 125)],
    [(795, 595), (818, 595), (818, 618), (795, 618)], [(610, 635), (635, 640), (625, 655)], [(830, 960), (850, 920), (900, 915), (900, 960)],
    [(825, 595), (850, 595), (850, 610), (825, 610)], [(830, 540), (848, 540), (848, 575), (830, 575)], [(870, 550), (890, 555), (880, 575)],
    [(405, 705), (430, 720), (410, 728)], [(760, 870), (785, 885), (780, 895), (755, 885)], [(620, 85), (640, 85), (630, 100)]]
CUD_51_60 = [
    [(300, 345), (325, 335), (330, 355), (305, 360)], [(685, 770), (710, 755), (715, 770), (685, 775)], [(915, 410), (935, 425), (915, 435)],
    [(320, 540), (460, 545), (460, 565), (320, 560)], [(650, 290), (695, 285), (680, 305)], [(710, 165), (725, 175), (715, 190)],
    [(275, 765), (300, 760), (300, 780), (278, 780)], [(395, 780), (420, 750), (430, 770), (410, 790)], [(400, 930), (420, 910), (425, 950), (395, 955)],
    [(545, 925), (575, 920), (575, 945), (550, 945)], [(650, 880), (670, 870), (660, 905)], [(905, 490), (915, 490), (910, 505)]]
CUD_31_40 = [
    [(410, 288), (445, 295), (440, 305), (412, 300)], [(980, 770), (1010, 770), (1010, 800), (985, 800)], [(280, 455), (330, 475), (300, 485)],
    [(470, 165), (540, 170), (530, 190), (475, 180)], [(270, 670), (340, 660), (335, 695), (285, 695)]]
CUD_CALLES_NORTE = [
    (380, 130, 700, 280), (390, 110, 705, 250), (400, 95, 710, 220), (425, 85, 715, 195), (455, 75, 720, 175), (370, 150, 470, 200), (420, 185, 480, 215),
    (620, 275, 680, 230), (590, 270, 670, 200), (560, 250, 655, 170), (530, 225, 640, 135), (500, 205, 605, 120), (470, 190, 570, 100), (440, 170, 535, 80), (410, 150, 500, 60),
    (340, 250, 490, 340), (330, 280, 490, 380), (320, 320, 480, 420), (340, 360, 470, 440), (340, 400, 435, 470),
    (350, 470, 490, 250), (390, 480, 495, 310), (420, 475, 495, 360), (320, 420, 440, 220), (460, 470, 490, 420),
    (385, 120, 702, 265), (395, 102, 708, 235), (412, 90, 712, 208), (440, 80, 718, 185), (605, 272, 675, 215), (575, 260, 662, 185), (545, 238, 648, 152), (515, 215, 622, 128), (485, 198, 588, 110),
    (335, 265, 490, 360), (325, 300, 485, 400), (330, 340, 475, 430), (335, 440, 465, 255), (370, 475, 492, 280), (405, 478, 495, 335), (440, 472, 495, 390), (330, 220, 470, 300), (350, 190, 460, 250)]
CUD_CALLES_OESTE = [
    (170, 400, 300, 500), (150, 430, 330, 560), (140, 460, 320, 600), (130, 500, 300, 620), (165, 380, 300, 450), (60, 490, 130, 540), (40, 530, 110, 580), (190, 620, 340, 530), (180, 590, 330, 500),
    (165, 560, 300, 470), (150, 530, 270, 440), (140, 500, 230, 420), (170, 670, 380, 690), (170, 700, 390, 720), (170, 730, 350, 745), (180, 650, 400, 670), (220, 620, 230, 760), (260, 610, 270, 770), (300, 600, 310, 760), (340, 610, 345, 730), (380, 630, 385, 710),
    (168, 390, 300, 475), (145, 445, 325, 580), (135, 480, 310, 610), (140, 515, 290, 625), (50, 510, 120, 560), (30, 550, 95, 590), (80, 480, 60, 590), (105, 490, 85, 580), (185, 605, 335, 515), (172, 575, 315, 485),
    (158, 545, 285, 455), (145, 515, 250, 430), (170, 685, 385, 705), (170, 715, 370, 732), (200, 620, 210, 760), (240, 615, 250, 770), (280, 605, 290, 770), (320, 600, 328, 750), (360, 620, 365, 720)]
CUD_CALLES_CENTRO = [
    (340, 490, 480, 495), (330, 520, 490, 525), (330, 585, 500, 590), (330, 610, 490, 615), (340, 640, 480, 645), (350, 470, 350, 640), (385, 470, 385, 660), (420, 470, 425, 640), (460, 460, 465, 620), (500, 470, 505, 700),
    (500, 480, 620, 470), (495, 510, 610, 500), (510, 540, 600, 530), (520, 570, 580, 560), (530, 600, 570, 590), (540, 460, 545, 640), (575, 440, 580, 650),
    (640, 440, 790, 450), (630, 470, 800, 480), (620, 510, 810, 520), (615, 540, 820, 545), (605, 570, 830, 575), (600, 600, 840, 605), (595, 630, 835, 635), (590, 660, 815, 665), (610, 690, 800, 695),
    (660, 430, 640, 700), (690, 430, 670, 700), (720, 430, 700, 700), (750, 430, 735, 700), (780, 430, 770, 700), (810, 480, 800, 680),
    (335, 505, 485, 510), (330, 570, 495, 575), (330, 598, 495, 602), (335, 625, 485, 630), (368, 470, 368, 650), (402, 470, 405, 650), (440, 465, 445, 630), (480, 465, 485, 620),
    (500, 495, 615, 485), (500, 525, 605, 515), (515, 555, 590, 545), (525, 585, 575, 575), (522, 460, 525, 650), (558, 450, 562, 650),
    (635, 455, 795, 465), (625, 490, 805, 500), (618, 525, 815, 532), (610, 555, 825, 560), (602, 585, 835, 590), (598, 615, 838, 620), (592, 645, 825, 650), (600, 675, 808, 680),
    (645, 430, 625, 690), (675, 430, 655, 700), (705, 430, 685, 700), (735, 430, 718, 700), (765, 430, 752, 700), (795, 450, 785, 690), (825, 520, 818, 660)]
CUD_CALLES_SUR = [
    (440, 690, 760, 860), (430, 720, 740, 880), (430, 750, 720, 905), (430, 780, 700, 930), (430, 810, 680, 950), (440, 840, 640, 950), (460, 870, 600, 950), (500, 680, 770, 815), (530, 670, 785, 795),
    (430, 900, 580, 720), (470, 920, 610, 735), (510, 940, 640, 750), (550, 950, 670, 770), (590, 950, 700, 790), (630, 950, 725, 810), (400, 880, 550, 705), (370, 860, 520, 690), (340, 840, 490, 680),
    (225, 870, 430, 940), (230, 900, 400, 950), (220, 850, 300, 880), (300, 860, 260, 950), (340, 870, 310, 950), (380, 880, 360, 955),
    (435, 705, 750, 870), (430, 735, 730, 892), (430, 765, 710, 918), (430, 795, 690, 940), (435, 825, 660, 950), (450, 855, 620, 950), (515, 675, 778, 805), (470, 690, 765, 838),
    (450, 910, 595, 728), (490, 930, 625, 742), (530, 945, 655, 760), (570, 950, 685, 780), (610, 950, 712, 800), (415, 890, 565, 712), (385, 870, 535, 698), (355, 850, 505, 685),
    (225, 885, 415, 945), (320, 865, 285, 950), (360, 875, 335, 955), (260, 855, 240, 945)]
CUD_CALLES_ESTE = [
    (850, 700, 1020, 760), (840, 730, 1020, 790), (835, 760, 1020, 820), (860, 670, 1020, 730), (880, 650, 1020, 700), (900, 630, 1020, 670), (835, 790, 980, 835), (830, 820, 910, 850),
    (860, 810, 950, 620), (890, 820, 990, 600), (920, 825, 1015, 590), (950, 830, 1020, 660), (980, 835, 1020, 740), (830, 770, 910, 640), (920, 460, 1010, 520), (925, 500, 990, 540), (900, 880, 960, 840), (820, 880, 900, 840),
    (855, 685, 1020, 745), (838, 745, 1020, 805), (870, 660, 1020, 715), (890, 640, 1020, 685), (832, 775, 1000, 828), (875, 815, 970, 610), (905, 822, 1005, 595), (935, 828, 1020, 625), (965, 832, 1020, 700), (845, 790, 930, 630), (950, 480, 975, 545)]
CUD_GRIS = [
    [(375, 80), (430, 150), (470, 230), (540, 255), (580, 300), (590, 370), (520, 450), (500, 440), (490, 340), (470, 260), (420, 190), (370, 110)],
    [(220, 310), (300, 290), (350, 300), (330, 330), (300, 400), (250, 370)],
    [(160, 440), (220, 420), (225, 460), (190, 490), (160, 480)],
    [(80, 650), (150, 660), (150, 760), (105, 730), (75, 700)],
    [(815, 340), (920, 410), (930, 430), (900, 470), (900, 510), (870, 520), (850, 470), (820, 420)],
    [(640, 400), (700, 420), (690, 440), (620, 430)],
    [(750, 330), (780, 330), (780, 370), (740, 390)],
    [(900, 960), (910, 900), (1000, 850), (1020, 850), (1020, 960)],
    [(720, 960), (760, 880), (780, 890), (745, 960)],
    [(760, 790), (830, 660), (835, 690), (790, 790)],
    [(800, 960), (800, 870), (840, 920), (825, 960)],
    [(600, 700), (625, 690), (635, 720), (610, 720)],
    [(540, 60), (600, 60), (610, 85), (560, 85)], [(490, 80), (540, 85), (520, 110), (495, 110)], [(620, 50), (645, 50), (655, 110), (625, 85)],
    [(640, 530), (665, 535), (660, 560), (640, 555)], [(755, 570), (790, 570), (785, 595), (755, 595)], [(340, 490), (360, 490), (355, 525), (340, 525)],
    [(965, 640), (985, 640), (980, 670), (965, 665)], [(650, 770), (670, 775), (665, 800), (650, 795)], [(640, 830), (665, 830), (660, 850), (640, 850)], [(470, 850), (495, 850), (490, 870), (470, 870)],
    [(360, 870), (385, 870), (380, 890), (360, 885)], [(230, 520), (250, 525), (240, 545)], [(430, 590), (460, 600), (440, 625)], [(590, 495), (605, 495), (600, 525)], [(950, 640), (965, 610), (970, 640)]]
CUD_AVENIDAS = [
    [(575, 665), (640, 430), (650, 290), (745, 195)], [(575, 665), (745, 780)], [(310, 535), (470, 545), (575, 665)], [(875, 630), (1020, 490)], [(660, 960), (770, 790), (825, 660), (870, 570), (820, 420), (815, 340)],
    [(610, 690), (780, 450)], [(600, 380), (780, 420)], [(400, 930), (470, 850), (590, 725)], [(150, 650), (260, 610)], [(220, 410), (310, 530)], [(790, 870), (1020, 905)], [(830, 340), (980, 470)]]
CUD_BLOQUES_MAGENTA = [
    (430, 100), (470, 120), (520, 150), (560, 170), (600, 190), (640, 180), (680, 200), (620, 230), (590, 240), (600, 290), (620, 340), (630, 120), (700, 190), (730, 240), (740, 280), (700, 300), (660, 300),
    (440, 280), (420, 350), (400, 400), (360, 430), (440, 440), (470, 400), (450, 470), (300, 430), (290, 480), (330, 470), (140, 420), (190, 510), (130, 490), (150, 550), (200, 590), (240, 530), (310, 590), (340, 620), (370, 605), (390, 640), (270, 620),
    (520, 530), (500, 540), (545, 500), (600, 430), (610, 450), (640, 500), (680, 520), (720, 540), (800, 560), (810, 540), (840, 600), (830, 570), (760, 520), (700, 430), (740, 430), (770, 480), (620, 640), (640, 660), (700, 660),
    (530, 750), (560, 760), (590, 770), (620, 780), (650, 790), (680, 740), (600, 800), (570, 830), (530, 800), (500, 830), (470, 790), (450, 760), (560, 860), (620, 860), (650, 830), (510, 900), (440, 830), (420, 800), (400, 860), (330, 880), (290, 900), (250, 890), (460, 920),
    (850, 710), (880, 730), (900, 690), (930, 700), (960, 720), (990, 740), (1000, 690), (950, 780), (900, 780), (870, 770), (920, 650), (980, 650), (850, 780), (1010, 780), (930, 500), (970, 520), (270, 720), (240, 690), (300, 650), (190, 700), (230, 660), (200, 670), (350, 700), (380, 720),
    (455, 135), (495, 165), (545, 185), (575, 200), (615, 210), (660, 240), (695, 260), (380, 370), (410, 430), (430, 380), (465, 445), (360, 470), (170, 430), (200, 450), (260, 470), (280, 540), (320, 620), (350, 660), (490, 600), (520, 620), (560, 560), (580, 600),
    (665, 560), (700, 610), (745, 640), (790, 660), (600, 540), (620, 580), (650, 620), (555, 790), (610, 825), (645, 760), (700, 800), (575, 880), (535, 870), (480, 860), (440, 910), (360, 900), (320, 920), (880, 690), (910, 750), (945, 670), (1005, 720), (870, 800), (945, 810)]
CUD_BLOQUES_MORADOS = [
    (480, 170), (500, 180), (520, 160), (530, 175), (570, 170), (640, 175), (590, 240), (610, 260), (300, 480), (315, 470), (330, 480), (280, 460), (430, 295), (340, 390), (130, 470), (170, 605), (200, 610),
    (270, 660), (290, 670), (310, 680), (330, 690), (280, 690), (300, 700), (320, 660), (340, 640), (360, 620), (375, 640), (325, 600), (320, 585),
    (540, 745), (570, 740), (590, 760), (630, 760), (520, 770), (500, 790), (530, 840), (560, 790), (560, 930), (540, 940), (575, 925), (400, 920), (410, 935), (420, 900), (440, 880), (660, 880), (650, 895), (680, 770),
    (860, 770), (880, 780), (900, 770), (920, 770), (985, 775), (1000, 790), (1010, 770), (985, 650), (850, 640), (690, 630), (700, 590), (620, 600), (450, 470), (470, 460), (480, 545), (510, 535)]

# ---- Funciones de dibujo
def poligonos(lista, color, ejes, opacidad=1):
    xs, ys = [], []
    for poligono in lista:
        xs += [p[0] for p in poligono] + [None]
        ys += [p[1] for p in poligono] + [None]
    return go.Scatter(x=xs, y=ys, mode='lines', fill='toself', fillcolor=color, opacity=opacidad,
                      line=dict(width=0, color=color), xaxis=ejes[0], yaxis=ejes[1], hoverinfo='skip', showlegend=False)

def lineas(lista, color, ancho, ejes):
    xs, ys = [], []
    for linea in lista:
        xs += [p[0] for p in linea] + [None]
        ys += [p[1] for p in linea] + [None]
    return go.Scatter(x=xs, y=ys, mode='lines', line=dict(width=ancho, color=color),
                      xaxis=ejes[0], yaxis=ejes[1], hoverinfo='skip', showlegend=False)

def calles(lista, ejes, ancho=0.6):
    return lineas([[(c[0], c[1]), (c[2], c[3])] for c in lista], 'white', ancho, ejes)

def bloques(lista, color, ejes, tam=4):
    return go.Scatter(x=[p[0] for p in lista], y=[p[1] for p in lista], mode='markers',
                      marker=dict(symbol='square', size=tam, color=color, line=dict(width=0)),
                      xaxis=ejes[0], yaxis=ejes[1], hoverinfo='skip', showlegend=False)

def circulo(x, y, tam, color, ejes):
    return go.Scatter(x=[x], y=[y], mode='markers', marker=dict(size=tam, color=color, line=dict(width=0)),
                      xaxis=ejes[0], yaxis=ejes[1], hoverinfo='skip', showlegend=False)

anotaciones = []
def texto(x, y, t, size, color='black', ejes=('x', 'y'), ancla='left', familia='Noto Sans', angulo=0):
    anotaciones.append(dict(x=x, y=y, xref=ejes[0], yref=ejes[1], text=t, showarrow=False, xanchor=ancla, yanchor='middle',
                            textangle=angulo, font=dict(family=familia, size=size, color=color)))

def adornos_mapa(ejes, ley_x, ley_y, ref_y, miu_y, escala_x, escala_y, esc_txt, esc_x, fuente_x, fuente_y, norte_x):
    sw = []
    for i, col in enumerate(LEYENDA_COL):
        y0 = ley_y + 34 * i
        sw.append(poligonos([[(ley_x, y0), (ley_x + 58, y0), (ley_x + 58, y0 + 22), (ley_x, y0 + 22)]], col, ejes))
        texto(ley_x + 71, y0 + 11, LEYENDA_CAT[i], 9, '#333333', ejes, familia='DejaVu Sans')
    texto(ley_x, ref_y, '<b>Referencias</b>', 11, 'black', ejes, familia='DejaVu Sans')
    texto(ley_x, miu_y, 'MIU', 11.5, '#222222', ejes, familia='DejaVu Sans')
    x0, x1, x2, x3, x4 = escala_x
    y0, y1 = escala_y, escala_y + 17
    sw.append(lineas([[(x0, y1), (x0, y0), (x1, y0), (x1, y1), (x2, y1), (x2, y0), (x3, y0), (x3, y1), (x4, y1), (x4, y0)]], '#333333', 1, ejes))
    for xe, t in zip(escala_x, ESCALA_TXT):
        texto(xe, y1 + 13, t, 5.5, '#555555', ejes, 'center', 'DejaVu Sans')
    texto(x4 + 6, y1 - 3, 'Meters', 5, '#777777', ejes, familia='DejaVu Sans')
    texto(esc_x, y0 - 22, '<b>' + esc_txt + '</b>', 8.5, '#222222', ejes, 'center', 'DejaVu Sans')
    texto(fuente_x, fuente_y, '<b>Fuente: Elaboración propia en base a datos del</b>', 6.1, '#222222', ejes, familia='DejaVu Sans')
    texto(fuente_x, fuente_y + 21, '<b>ONU-Habitat</b>', 6.1, '#222222', ejes, familia='DejaVu Sans')
    sw.append(lineas([[(norte_x, 442), (norte_x, 350)]], 'black', 1.2, ejes))
    sw.append(poligonos([[(norte_x, 350), (norte_x, 392), (norte_x - 8, 392)]], 'black', ejes))
    texto(norte_x - 12, 432, 'N', 4.5, '#333333', ejes, 'center', 'DejaVu Sans', -90)
    return sw

PAGINA = ('x', 'y')
E1 = ('x2', 'y2')
E2 = ('x3', 'y3')
E3 = ('x4', 'y4')
D1 = ('x5', 'y5')
D2 = ('x6', 'y6')
D3 = ('x7', 'y7')

fig = go.Figure()

# ---- Fondo de la pagina
fig.add_trace(go.Scatter(x=PUNTOS_X, y=PUNTOS_Y, mode='markers',
                         marker=dict(size=PUNTOS_TAM, color=PUNTOS_COL, line=dict(width=0)), hoverinfo='skip', showlegend=False))

# ---- Logos
fig.add_trace(poligonos(BANDERA, '#26388f', PAGINA))
fig.add_trace(go.Scatter(x=ESTRELLAS_X, y=ESTRELLAS_Y, mode='markers', marker=dict(symbol='star', size=5, color='#f5c518', line=dict(width=0)), hoverinfo='skip', showlegend=False))
fig.add_trace(lineas([[(1867, 35), (1867, 158)]], '#cfe3e2', 1, PAGINA))
fig.add_trace(go.Scatter(x=[1938], y=[73], mode='markers', marker=dict(symbol='circle-open', size=71, color='#2aa5a0', line=dict(width=5, color='#2aa5a0')), hoverinfo='skip', showlegend=False))
for e in EDIFICIOS:
    fig.add_trace(lineas([[(e[0], e[1]), (e[2], e[3]), (e[4], e[5]), (e[6], e[7])]], '#7cc7c3', 1.2, PAGINA))
fig.add_trace(lineas([PERSONA], '#1f8f8b', 6, PAGINA))
fig.add_trace(circulo(1938, 72, 8, '#1f8f8b', PAGINA))

# ---- Mapa 1: Barranquilla
fig.add_trace(poligonos([[(0, 20), (1493, 20), (1493, 1545), (0, 1545)]], 'white', E1))
fig.add_trace(poligonos(BQ_AGUA, AGUA, E1))
fig.add_trace(poligonos(BQ_BLANCO, 'white', E1))
fig.add_trace(circulo(1285, 155, 126, 'rgba(236,236,236,0.65)', E1))
fig.add_trace(poligonos(BQ_PAIS, '#f8f8f8', E1, 0.8))
fig.add_trace(bloques(BQ_ROJO, '#e01020', E1, 3))
fig.add_trace(poligonos(BQ_GRIS_BRAZO, GRIS, E1))
fig.add_trace(poligonos(BQ_BASE, C_81_90, E1))
fig.add_trace(poligonos(BQ_BARRIOS, C_81_90, E1))
fig.add_trace(poligonos(BQ_ZONA_ROJA, C_71_80, E1))
fig.add_trace(calles(BQ_CALLES_A, E1))
fig.add_trace(calles(BQ_CALLES_A2, E1))
fig.add_trace(calles(BQ_CALLES_B, E1))
fig.add_trace(calles(BQ_CALLES_B2, E1))
fig.add_trace(poligonos(BQ_GRIS, GRIS, E1))
fig.add_trace(poligonos(BQ_71_80, C_71_80, E1))
fig.add_trace(poligonos(BQ_61_70, C_61_70, E1))
fig.add_trace(poligonos(BQ_51_60, C_51_60, E1))
fig.add_trace(poligonos(BQ_41_50, C_41_50, E1))
fig.add_trace(lineas(BQ_AVENIDAS, 'white', 1.2, E1))
for t in adornos_mapa(E1, 1092, 1098, 1035, 1072, [468, 510, 552, 636, 720], 1445, 'Esc. 1:85000', 650, 1015, 1467, 1401):
    fig.add_trace(t)

# ---- Mapa 2: Bucaramanga
fig.add_trace(poligonos([[(13, 0), (1510, 0), (1510, 1568), (13, 1568)]], 'white', E2))
fig.add_trace(circulo(1280, 150, 125, 'rgba(228,238,244,0.85)', E2))
fig.add_trace(poligonos(BU_PAIS, '#f6f6f6', E2))
fig.add_trace(poligonos(BU_ROJO, '#e01020', E2))
fig.add_trace(lineas(BU_RIOS, '#d9d9d9', 1.6, E2))
fig.add_trace(poligonos(BU_GRIS, GRIS, E2))
fig.add_trace(poligonos(BU_BASE, C_81_90, E2))
fig.add_trace(calles(BU_CALLES, E2))
fig.add_trace(poligonos(BU_71_80, C_71_80, E2))
fig.add_trace(poligonos(BU_61_70, C_61_70, E2))
fig.add_trace(poligonos(BU_51_60, C_51_60, E2))
fig.add_trace(bloques(BU_BLOQUES_MORADOS, C_51_60, E2, 4))
fig.add_trace(lineas(BU_AVENIDAS, 'white', 1.2, E2))
for t in adornos_mapa(E2, 112, 1120, 1057, 1092, [613, 650, 687, 759, 831], 1450, 'Esc. 1:95000', 685, 92, 1498, 1390):
    fig.add_trace(t)

# ---- Mapa 3: Cúcuta
fig.add_trace(poligonos([[(0, 20), (1493, 20), (1493, 1538), (0, 1538)]], 'white', E3))
fig.add_trace(poligonos(CU_GRIS_ESTE, GRIS_CLARO, E3))
fig.add_trace(lineas(CU_RIOS, AGUA, 4, E3))
fig.add_trace(poligonos(CU_RIO_SUR, AGUA, E3))
fig.add_trace(poligonos(CU_PAIS, 'white', E3))
fig.add_trace(poligonos(CU_ROJO, '#e01020', E3))
fig.add_trace(poligonos(CU_BASE, C_71_80, E3))
fig.add_trace(poligonos(CU_BASE_CLARA, C_81_90, E3, 0.6))
fig.add_trace(bloques(CU_BLOQUES_MAGENTA, C_61_70, E3, 3.5))
fig.add_trace(bloques(CU_BLOQUES_MORADOS, C_51_60, E3, 3.5))
fig.add_trace(calles(CU_CALLES_A, E3))
fig.add_trace(calles(CU_CALLES_B, E3))
fig.add_trace(poligonos(CU_GRIS, GRIS, E3))
fig.add_trace(poligonos(CU_81_90, C_81_90, E3))
fig.add_trace(poligonos(CU_71_80, C_71_80, E3))
fig.add_trace(poligonos(CU_61_70, C_61_70, E3))
fig.add_trace(lineas(CU_AVENIDAS, 'white', 1.3, E3))
for t in adornos_mapa(E3, 128, 1111, 1047, 1083, [627, 670, 713, 799, 886], 1450, 'Esc. 1:80000', 697, 102, 1496, 1404):
    fig.add_trace(t)

# ---- Detalle Barranquilla
fig.add_trace(poligonos(BQD_GRIS, GRIS, D1))
fig.add_trace(lineas(BQD_RAYAS, C_71_80, 2.5, D1))
fig.add_trace(poligonos(BQD_81_90, C_81_90, D1))
fig.add_trace(poligonos(BQD_71_80, C_71_80, D1))
fig.add_trace(poligonos(BQD_AGUA, AGUA, D1))
fig.add_trace(poligonos(BQD_61_70, C_61_70, D1))
fig.add_trace(poligonos(BQD_51_60, C_51_60, D1))
fig.add_trace(lineas(BQD_LINEAS_BLANCAS, 'white', 1, D1))

# ---- Detalle Bucaramanga
fig.add_trace(lineas(BUD_RIO, '#d9d9d9', 1.6, D2))
fig.add_trace(poligonos(BUD_GRIS, GRIS, D2))
fig.add_trace(poligonos(BUD_BASE, C_81_90, D2))
fig.add_trace(bloques(BUD_BLOQUES_ROJOS, C_71_80, D2, 3.5))
fig.add_trace(poligonos(BUD_71_80[17:], C_71_80, D2))
fig.add_trace(calles(BUD_CALLES_A, D2, 0.7))
fig.add_trace(calles(BUD_CALLES_B, D2, 0.7))
fig.add_trace(poligonos(BUD_GRIS_HUECOS, GRIS, D2))
fig.add_trace(poligonos(BUD_81_90, C_81_90, D2))
fig.add_trace(poligonos(BUD_71_80[:17], C_71_80, D2))
fig.add_trace(poligonos(BUD_61_70, C_61_70, D2))
fig.add_trace(poligonos(BUD_51_60, C_51_60, D2))
fig.add_trace(bloques(BUD_BLOQUES_MORADOS, C_51_60, D2, 3))
fig.add_trace(lineas(BUD_AVENIDAS, 'white', 1.2, D2))

# ---- Detalle Cúcuta
fig.add_trace(poligonos(CUD_BASE, C_71_80, D3))
fig.add_trace(poligonos(CUD_CLARA, C_81_90, D3, 0.55))
fig.add_trace(poligonos(CUD_81_90, C_81_90, D3))
fig.add_trace(poligonos(CUD_71_80, C_71_80, D3))
fig.add_trace(bloques(CUD_BLOQUES_MAGENTA, C_61_70, D3, 3.5))
fig.add_trace(bloques(CUD_BLOQUES_MORADOS, C_31_40, D3, 3))
for capa in [CUD_CALLES_NORTE, CUD_CALLES_OESTE, CUD_CALLES_CENTRO, CUD_CALLES_SUR, CUD_CALLES_ESTE]:
    fig.add_trace(calles(capa, D3, 0.7))
fig.add_trace(poligonos(CUD_GRIS, GRIS, D3))
fig.add_trace(poligonos(CUD_61_70, C_61_70, D3))
fig.add_trace(poligonos(CUD_51_60, C_51_60, D3))
fig.add_trace(poligonos(CUD_31_40, C_31_40, D3))
fig.add_trace(lineas(CUD_AVENIDAS, 'white', 1.3, D3))

# ---- Textos
texto(68.5, 80, '<b>' + TITULO + '</b>', 68, VERDE_TITULO)
texto(73.5, 193, 'Barranquilla', 28.5, VERDE_CIUDAD)
texto(727.5, 193, 'Bucaramanga', 28.5, VERDE_CIUDAD)
texto(1387.5, 176, 'Cúcuta y Villa del', 28.5, VERDE_CIUDAD)
texto(1387.5, 216, 'Rosario', 28.5, VERDE_CIUDAD)
texto(371.5, 196, 'Puntuación: 79.2/100', 26)
texto(1025.5, 196, 'Puntuación: 79.3/100', 26)
texto(1685, 190, 'Puntuación: 76.4/100', 26)
LINEAS_Y = [261.5, 290, 318.5, 347, 375, 403]
for col_x, lineas_txt in zip([67.5, 721.5, 1381.5], [TEXTO_BQ, TEXTO_BU, TEXTO_CU]):
    for y_txt, l in zip(LINEAS_Y, lineas_txt):
        texto(col_x, y_txt, l, 19.2)
texto(1795, 126, '<b>UNIÓN EUROPEA</b>', 9.5, '#6d6d6d', ancla='center')
texto(1938, 128, '<b>CIUDADES</b>', 15, '#1f9a96', ancla='center')
texto(1938, 146, '<b>INCLUYENTES</b>', 15, '#1f9a96', ancla='center')
texto(1938, 159, 'COMUNIDADES SOLIDARIAS', 5, '#1f9a96', ancla='center')

fig.update_layout(
    width=2048, height=1152, margin=dict(l=0, r=0, t=0, b=0),
    paper_bgcolor=FONDO, plot_bgcolor='rgba(0,0,0,0)', showlegend=False, annotations=anotaciones,
    xaxis=dict(domain=[0, 1], range=[0, 2048], visible=False, fixedrange=True),
    yaxis=dict(domain=[0, 1], range=[1152, 0], visible=False, fixedrange=True),
    xaxis2=dict(domain=[60 / 2048, 640 / 2048], range=[0, 1568], visible=False, anchor='y2'),
    yaxis2=dict(domain=[0, 732 / 1152], range=[1568, 0], visible=False, anchor='x2'),
    xaxis3=dict(domain=[700 / 2048, 1300 / 2048], range=[0, 1568], visible=False, anchor='y3'),
    yaxis3=dict(domain=[0, 732 / 1152], range=[1568, 0], visible=False, anchor='x3'),
    xaxis4=dict(domain=[1380 / 2048, 1980 / 2048], range=[0, 1568], visible=False, anchor='y4'),
    yaxis4=dict(domain=[0, 732 / 1152], range=[1568, 0], visible=False, anchor='x4'),
    xaxis5=dict(domain=[300 / 2048, 600 / 2048], range=[0, 900], visible=False, anchor='y5'),
    yaxis5=dict(domain=[1 - 900 / 1152, 1 - 600 / 1152], range=[900, 0], visible=False, anchor='x5'),
    xaxis6=dict(domain=[820 / 2048, 1160 / 2048], range=[0, 1020], visible=False, anchor='y6'),
    yaxis6=dict(domain=[1 - 840 / 1152, 1 - 520 / 1152], range=[960, 0], visible=False, anchor='x6'),
    xaxis7=dict(domain=[1440 / 2048, 1780 / 2048], range=[0, 1020], visible=False, anchor='y7'),
    yaxis7=dict(domain=[1 - 820 / 1152, 1 - 500 / 1152], range=[960, 0], visible=False, anchor='x7'))

fig.write_html("out.html", config={'displayModeBar': False},
               post_script="document.body.style.margin='0';document.body.style.background='" + FONDO + "';")
